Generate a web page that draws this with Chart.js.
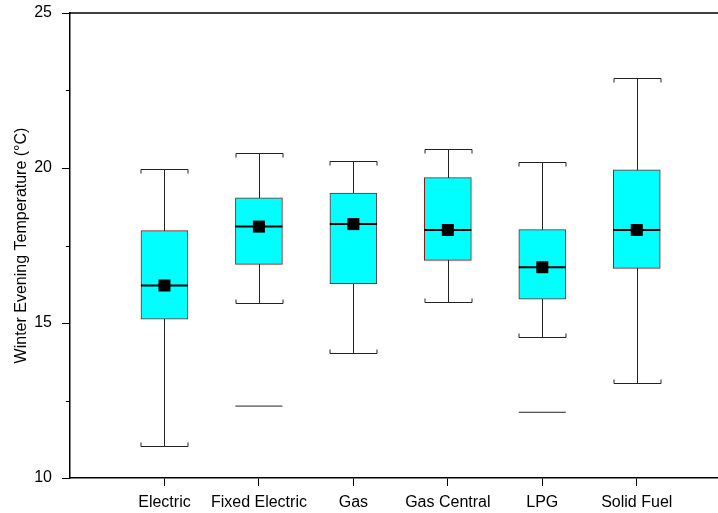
<!DOCTYPE html>
<html>
<head>
<meta charset="utf-8">
<script src="https://cdn.jsdelivr.net/npm/chart.js@4"></script>
<style>
  html, body { margin:0; padding:0; background:#fff; }
  #wrap { width:718px; height:513px; }
</style>
</head>
<body>
<div id="wrap"><canvas id="chart" width="718" height="513"></canvas></div>
<script>
// ---------- DATA ----------
const categories = ['Electric','Fixed Electric','Gas','Gas Central','LPG','Solid Fuel'];
const whiskerLow  = [11.02, 15.63, 14.02, 15.67, 14.55, 13.07];
const q1          = [15.12, 16.89, 16.27, 17.02, 15.77, 16.76];
const medians     = [16.21, 18.11, 18.19, 18.00, 16.80, 18.00];
const q3          = [17.98, 19.04, 19.19, 19.69, 18.01, 19.94];
const whiskerHigh = [19.98, 20.48, 20.21, 20.61, 20.19, 22.90];
const means       = [16.21, 18.11, 18.19, 18.00, 16.80, 18.00];
const outliers    = [[], [12.32], [], [], [12.12], []];
const yTicks      = [10, 15, 20, 25];

const BOX_W = 47;
const FONT = {family:'Liberation Sans, Arial', size:16};

// ---------- WHISKERS + FRAME ----------
const whiskerPlugin = {
  id:'whiskers',
  beforeDatasetsDraw(chart){
    const {ctx, scales:{x,y}} = chart;
    ctx.save();
    ctx.strokeStyle = '#222';
    ctx.lineWidth = 1;
    categories.forEach((c,i)=>{
      const px = Math.round(x.getPixelForValue(i+1)) + 0.5;
      const hi = Math.round(y.getPixelForValue(whiskerHigh[i])) + 0.5;
      const lo = Math.round(y.getPixelForValue(whiskerLow[i])) + 0.5;
      const l = px - BOX_W/2, r = px + BOX_W/2;
      ctx.beginPath();
      ctx.moveTo(px, hi); ctx.lineTo(px, lo);
      // upper cap, ends turned down
      ctx.moveTo(l, hi + 4); ctx.lineTo(l, hi); ctx.lineTo(r, hi); ctx.lineTo(r, hi + 4);
      // lower cap, ends turned up
      ctx.moveTo(l, lo - 4); ctx.lineTo(l, lo); ctx.lineTo(r, lo); ctx.lineTo(r, lo - 4);
      ctx.stroke();
    });
    ctx.restore();
  },
  afterDraw(chart){
    const {ctx, chartArea:a, scales:{y}} = chart;
    ctx.save();
    ctx.strokeStyle = '#000';
    ctx.lineWidth = 1.5;
    ctx.beginPath();
    ctx.moveTo(a.left, a.top); ctx.lineTo(a.right, a.top);
    ctx.stroke();
    // minor ticks on y
    ctx.lineWidth = 1;
    [12.5, 17.5, 22.5].forEach(v=>{
      const py = Math.round(y.getPixelForValue(v)) + 0.5;
      ctx.beginPath(); ctx.moveTo(a.left - 4, py); ctx.lineTo(a.left, py); ctx.stroke();
    });
    ctx.restore();
  }
};

const xs = categories.map((c,i)=>i+1);
const outlierPts = [];
outliers.forEach((arr,i)=>arr.forEach(v=>outlierPts.push({x:i+1, y:v})));

new Chart(document.getElementById('chart'), {
  type:'bar',
  data:{
    datasets:[
      { type:'scatter', label:'Mean', order:1,
        data: xs.map((x,i)=>({x, y:means[i]})),
        pointStyle:'rect', radius:8.5, backgroundColor:'#000', borderColor:'#000', borderWidth:0 },
      { type:'scatter', label:'Median', order:2,
        data: xs.map((x,i)=>({x, y:medians[i]})),
        pointStyle:'line', radius:BOX_W/2, borderColor:'#000', borderWidth:2 },
      { type:'scatter', label:'Outliers', order:3,
        data: outlierPts,
        pointStyle:'line', radius:BOX_W/2, borderColor:'#222', borderWidth:1 },
      { type:'bar', label:'IQR', order:4,
        data: xs.map((x,i)=>({x, y:[q1[i], q3[i]]})),
        backgroundColor:'#00ffff', borderColor:'#8b1a1a', borderWidth:1,
        borderSkipped:false, barThickness:BOX_W }
    ]
  },
  options:{
    responsive:false,
    animation:false,
    events:[],
    layout:{ autoPadding:false, padding:{ left:8, right:0, top:13, bottom:0 } },
    plugins:{ legend:{display:false}, tooltip:{enabled:false} },
    scales:{
      x:{
        type:'linear', min:0, max:6.86, offset:false,
        afterBuildTicks: s => { s.ticks = xs.map(v=>({value:v})); },
        afterFit: s => { s.height = 35; s.paddingLeft = 0; s.paddingRight = 0; },
        ticks:{ autoSkip:false, maxRotation:0, padding:7, color:'#000', font:FONT,
          callback: v => categories[v-1] ?? '' },
        grid:{ offset:false, drawOnChartArea:false, tickLength:8, tickColor:'#000' },
        border:{ color:'#000', width:1.5 }
      },
      y:{
        min:10, max:25,
        afterBuildTicks: s => { s.ticks = yTicks.map(v=>({value:v})); },
        afterFit: s => { s.width = 62; s.paddingTop = 0; s.paddingBottom = 0; },
        ticks:{ padding:10, color:'#000', font:FONT },
        grid:{ drawOnChartArea:false, tickLength:8, tickColor:'#000' },
        border:{ color:'#000', width:1.5 },
        title:{ display:true, text:'Winter Evening Temperature (°C)', color:'#000',
          font:FONT, padding:{top:4, bottom:0} }
      }
    }
  },
  plugins:[whiskerPlugin]
});
</script>
</body>
</html>
